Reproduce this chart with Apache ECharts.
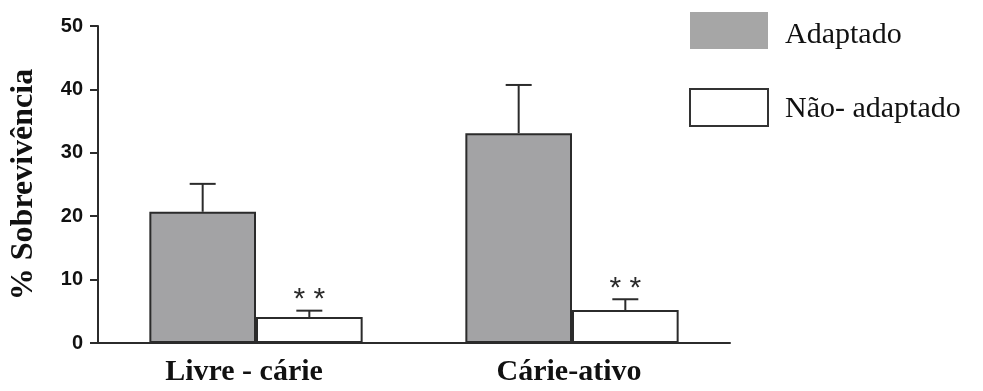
<!DOCTYPE html>
<html>
<head>
<meta charset="utf-8">
<script src="https://cdn.jsdelivr.net/npm/echarts@6/dist/echarts.min.js"></script>
<style>
  html, body { margin: 0; padding: 0; background: #fff; }
  #chart { width: 983px; height: 391px; }
</style>
</head>
<body>
<div id="chart"></div>
<script>
// Survival (%) by group, mean with upper SEM
const categories = ['Livre - cárie', 'Cárie-ativo'];
const seriesNames = ['Adaptado', 'Não- adaptado'];
const adaptado = [20.7, 33.1];
const adaptadoErr = [4.4, 7.6];
const naoAdaptado = [4.1, 5.2];
const naoAdaptadoErr = [1.0, 1.7];
const significance = ['', '* *'];   // per series: marker over the error bar
const yTicks = { min: 0, max: 50, interval: 10 };

const SERIF = '"Liberation Serif", "Times New Roman", serif';
const SANS = '"Liberation Sans", Arial, sans-serif';
const INK = '#2b2b2b';
const CAT_GAP = 0.325;

// Upper error bar (and optional marker) drawn beside each bar of a series
function errorSeries(values, errs, seriesIdx, mark) {
  return {
    type: 'custom',
    z: 5,
    data: values.map((v, i) => [i, v, v + errs[i]]),
    renderItem: function (params, api) {
      const band = api.size([1, 0])[0];
      const barW = band * (1 - CAT_GAP) / 2;
      const off = (seriesIdx === 0 ? -0.5 : 0.5) * barW;
      const base = api.coord([api.value(0), api.value(1)]);
      const top = api.coord([api.value(0), api.value(2)]);
      const x = base[0] + off;
      const cap = 13;
      const style = { stroke: INK, lineWidth: 2 };
      const children = [
        { type: 'line', shape: { x1: x, y1: base[1], x2: x, y2: top[1] }, style: style },
        { type: 'line', shape: { x1: x - cap, y1: top[1], x2: x + cap, y2: top[1] }, style: style }
      ];
      if (mark) {
        children.push({
          type: 'text',
          style: {
            x: x, y: top[1] + 4, text: mark, fill: INK,
            font: '30px ' + SANS, align: 'center', verticalAlign: 'bottom'
          }
        });
      }
      return { type: 'group', children: children };
    }
  };
}

const chart = echarts.init(document.getElementById('chart'));
chart.setOption({
  animation: false,
  backgroundColor: '#fff',
  grid: { left: 95, right: 253, top: 26, bottom: 48, containLabel: false },
  legend: {
    orient: 'vertical',
    left: 684,
    top: 7,
    itemWidth: 78,
    itemHeight: 37,
    itemGap: 38,
    icon: 'rect',
    selectedMode: false,
    formatter: function (name) {
      return name === seriesNames[0] ? '{low|' + name + '}' : '{mid|' + name + '}';
    },
    textStyle: {
      fontFamily: SERIF, fontSize: 30, color: '#111',
      padding: [0, 0, 0, 12],
      rich: {
        low: { fontFamily: SERIF, fontSize: 30, color: '#111', padding: [9, 0, 0, 0] },
        mid: { fontFamily: SERIF, fontSize: 30, color: '#111', padding: [3, 0, 0, 0] }
      }
    },
    data: [
      { name: seriesNames[0], itemStyle: { borderWidth: 0, color: '#a6a6a6' } },
      { name: seriesNames[1], itemStyle: { borderWidth: 2, borderColor: '#333', color: '#fff' } }
    ]
  },
  xAxis: {
    type: 'category',
    data: [
      { value: categories[0], textStyle: { padding: [0, 24, 0, 0] } },
      { value: categories[1], textStyle: { padding: [0, 6, 0, 0] } }
    ],
    axisLine: { lineStyle: { color: INK, width: 2 } },
    axisTick: { show: false },
    axisLabel: {
      fontFamily: SERIF, fontWeight: 'bold', fontSize: 30, color: '#111', margin: 14
    }
  },
  yAxis: {
    type: 'value',
    min: yTicks.min,
    max: yTicks.max,
    interval: yTicks.interval,
    name: '% Sobrevivência',
    nameLocation: 'middle',
    nameGap: 58,
    nameRotate: 90,
    nameTextStyle: { fontFamily: SERIF, fontWeight: 'bold', fontSize: 32, color: '#111' },
    splitLine: { show: false },
    axisLine: { show: true, lineStyle: { color: INK, width: 2 } },
    axisTick: { show: true, length: 8, lineStyle: { color: INK, width: 2 } },
    axisLabel: { fontFamily: SANS, fontWeight: 'bold', fontSize: 20, color: '#111', margin: 15 }
  },
  series: [
    {
      name: seriesNames[0],
      type: 'bar',
      data: adaptado,
      barGap: '0%',
      barCategoryGap: (CAT_GAP * 100) + '%',
      itemStyle: { color: '#a3a3a5', borderColor: INK, borderWidth: 2 }
    },
    {
      name: seriesNames[1],
      type: 'bar',
      data: naoAdaptado,
      barGap: '0%',
      barCategoryGap: (CAT_GAP * 100) + '%',
      itemStyle: { color: '#ffffff', borderColor: INK, borderWidth: 2 }
    },
    errorSeries(adaptado, adaptadoErr, 0, significance[0]),
    errorSeries(naoAdaptado, naoAdaptadoErr, 1, significance[1])
  ]
});
</script>
</body>
</html>
